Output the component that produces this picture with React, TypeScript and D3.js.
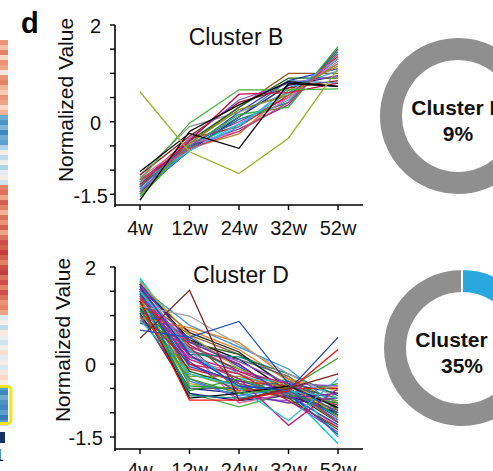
import React from "react";
import * as d3 from "d3";

const weeks = ["4w", "12w", "24w", "32w", "52w"];
const yTickValues = [2, 1.5, 1, 0.5, 0, -0.5, -1, -1.5];
const yLabelValues = [2, 0, -1.5];

// Cluster B profiles (4w,12w,24w,32w,52w)
const clusterB: number[][] = [
  [-1.25, -0.45, 0.3, 1.0, 1.0],
  [-1.4, -0.55, 0.2, 0.85, 1.1],
  [-1.45, -0.6, 0.1, 0.75, 0.95],
  [-1.35, -0.45, 0.0, 0.5, 1.3],
  [-1.3, -0.5, -0.05, 0.45, 1.4],
  [-1.1, -0.1, 0.2, 0.6, 1.2],
  [-1.25, -0.35, -0.1, 0.55, 1.35],
  [-1.5, -0.55, 0.05, 0.4, 1.45],
  [-1.2, -0.5, -0.15, 0.35, 1.5],
  [-1.55, -0.5, 0.15, 0.3, 1.55],
  [-1.15, -0.45, -0.2, 0.5, 1.25],
  [-1.3, -0.55, -0.25, 0.65, 1.15],
  [-1.4, -0.6, -0.1, 0.7, 1.05],
  [-1.35, -0.4, 0.3, 0.9, 0.9],
  [-1.1, -0.3, 0.4, 0.7, 0.85],
  [-1.45, -0.35, 0.45, 0.8, 0.95],
  [-1.25, -0.6, -0.05, 0.6, 1.3],
  [-1.5, -0.45, 0.25, 0.55, 1.2],
  [-1.35, -0.5, 0.1, 0.85, 0.8],
  [-1.2, -0.55, -0.2, 0.4, 1.4],
  [-1.3, -0.4, 0.57, 0.6, 0.8],
  [-1.2, -0.03, 0.66, 0.66, 0.68],
  [-1.03, -0.24, -0.55, 0.79, 0.73],
  [-1.62, -0.2, 0.35, 0.83, 0.73],
  [0.62, -0.62, -1.07, -0.34, 1.1],
];
const clusterBColors = [
  "#9a5a1e", "#2040d0", "#1a1a80", "#c020b0", "#20b8d0", "#909090", "#e02020", "#008080",
  "#7030a0", "#30b030", "#e070b0", "#c08030", "#40a0e0", "#206020", "#901818", "#9050d0",
  "#30c0e0", "#809020", "#4a70a0", "#d04070", "#c0104a", "#40b040", "#000000", "#000000",
  "#9ab32a",
];

// Cluster D profiles (4w,12w,24w,32w,52w)
const clusterD: number[][] = [
  [1.77, 0.4, -0.2, -0.6, -1.64],
  [1.65, 0.5, 0.1, -0.55, -1.2],
  [1.55, 0.0, -0.4, -0.65, -1.0],
  [1.45, -0.2, -0.5, -0.7, -0.9],
  [1.35, 0.6, 0.2, -0.3, -0.8],
  [1.25, 0.3, -0.1, -0.5, -1.1],
  [1.15, -0.5, -0.6, -0.4, -0.6],
  [1.0, 0.7, 0.3, -0.35, -0.5],
  [0.95, 0.1, -0.2, -0.6, -1.3],
  [0.85, 0.45, 0.2, -0.45, -0.7],
  [1.7, -0.3, -0.7, -0.75, -1.4],
  [1.6, 0.8, 0.35, -0.1, -0.9],
  [1.5, -0.6, -0.88, -0.6, -0.75],
  [1.4, 0.4, -0.15, -0.55, -1.15],
  [1.3, 0.25, 0.1, -0.25, -0.95],
  [1.2, -0.4, -0.55, -0.3, -0.55],
  [1.1, 0.55, -0.05, -0.65, -1.25],
  [1.0, -0.1, -0.35, -0.45, -0.85],
  [0.9, 0.35, 0.0, -0.7, -0.6],
  [1.75, 0.15, -0.3, -0.35, -1.5],
  [1.65, -0.45, -0.5, -0.6, -0.4],
  [1.55, 0.65, 0.25, -0.5, -1.05],
  [1.45, 0.05, -0.6, -0.8, -0.7],
  [1.35, -0.25, -0.25, -0.5, -1.2],
  [1.25, 0.5, -0.4, -0.6, -0.95],
  [1.15, 0.2, 0.15, -0.2, -0.65],
  [1.05, -0.6, -0.75, -0.65, -1.0],
  [0.95, 0.75, 0.45, -0.3, -1.1],
  [1.6, 0.3, -0.8, -0.6, -0.8],
  [1.5, -0.15, -0.45, -0.7, -1.35],
  [1.4, 0.45, 0.05, -0.4, -0.45],
  [1.3, -0.35, -0.65, -0.5, -1.15],
  [1.1, 0.0, -0.2, -0.75, -1.3],
  [1.0, -0.5, -0.5, -0.35, -0.9],
  [1.7, 0.6, -0.1, -0.45, -1.0],
  [1.45, -0.05, -0.35, -0.6, -1.45],
  [1.35, 0.35, -0.55, -0.5, -0.5],
  [1.25, -0.55, -0.3, -0.65, -0.8],
  [1.55, 0.15, -0.15, -0.4, -1.2],
  [0.9, -0.2, -0.45, -0.55, -0.7],
  [1.65, 0.45, 0.0, -0.7, -0.6],
  [1.3, -0.7, -0.6, -0.45, -0.9],
  [1.5, -0.65, -0.7, -0.55, -1.05],
  [1.2, 0.99, 0.4, -0.2, -0.7],
  [1.4, 0.1, -0.3, -1.26, -0.5],
  [1.5, 0.3, -0.5, -1.16, -0.3],
  [1.1, -0.3, -0.6, -0.5, 0.12],
  [1.6, 0.2, -0.45, -0.54, 0.55],
  [0.7, 0.55, 0.88, -0.4, -1.0],
  [1.3, -0.74, -0.74, -0.55, 0.3],
  [0.53, 1.52, -0.74, -0.5, -0.2],
];
const clusterDPalette = [
  "#00c8d8", "#000000", "#7030a0", "#8a9a20", "#8b5a2b", "#008080", "#1a1a80", "#e08020",
  "#e060a0", "#206020", "#9050d0", "#3090e0", "#40b040", "#c02040", "#506080", "#c0a020",
  "#1f4fbf", "#e02020", "#c0208f", "#20c0d0", "#30a030", "#202020", "#7030a0", "#8a9a20",
  "#8b5a2b", "#008080", "#1a1a80", "#e08020", "#e060a0", "#206020", "#9050d0", "#3090e0",
  "#c02040", "#506080", "#c0a020", "#1f4fbf", "#e02020", "#30a030", "#c0208f", "#20c0d0",
  "#7030a0", "#000000", "#008080", "#a0a0a0", "#c0208f", "#20c0d0", "#30a030", "#2040c0",
  "#1f4fbf", "#ff1010", "#7f1f1f",
];

// Donut shares
const donutB = [9, 91];
const donutD = [35, 65];
const donutColors = ["#29a8e0", "#8f8f8f"];

// Heatmap strip (row values, positive = red, negative = blue)
const heatRows = [
  0.45, 0.3, 0.5, 0.2, 0.45, 0.4, 0.1, 0.45, 0.5, 0.35, 0.25, 0.45, 0.4, 0.2, 0.35,
  -0.5, -0.6, -0.45, -0.65, -0.5, -0.55, -0.3,
  0.05, -0.25, 0.0, -0.3, -0.1, 0.05, -0.2,
  0.5, 0.55, 0.4, 0.6, 0.5, 0.35, 0.55, 0.45, 0.6, 0.4, 0.55,
  0.65, 0.6, 0.7, 0.6, 0.5, 0.65, 0.7, 0.55, 0.65, 0.5, 0.65, 0.55, 0.45, 0.5, 0.4,
  -0.15, 0.05, -0.25, 0.1, -0.05, -0.2, 0.0, 0.15, -0.1, 0.05, -0.15, 0.1, 0.2, 0.05,
  -0.55, -0.65, -0.5, -0.6, -0.65, -0.55, -0.7, -0.55,
];

const FONT = "Arial, 'Liberation Sans', Helvetica, sans-serif";

function LinePanel(props: {
  data: number[][];
  colors: string[];
  title: string;
  yTop: number;
  yBottom: number;
  axisY: number;
  titleX: number;
  titleY: number;
  labelEnd: number;
  yLabelX: number;
  yLabelY: number;
  xLabelY: number;
}) {
  const { data, colors, title, yTop, yBottom, axisY, titleX, titleY, labelEnd, yLabelX, yLabelY, xLabelY } = props;
  const x = d3.scalePoint<string>().domain(weeks).range([140, 338]);
  const y = d3.scaleLinear().domain([-1.5, 2]).range([yBottom, yTop]);
  const line = d3
    .line<number>()
    .x((_, i) => x(weeks[i]) as number)
    .y((d) => y(d));
  const axisX = 115;
  return (
    <g>
      {data.map((s, i) => (
        <path key={i} d={line(s) || ""} fill="none" stroke={colors[i % colors.length]} strokeWidth={1.3} />
      ))}
      <line x1={axisX} x2={axisX} y1={y(2)} y2={axisY + 2} stroke="#000" strokeWidth={1.6} />
      <line x1={axisX} x2={363} y1={axisY} y2={axisY} stroke="#000" strokeWidth={1.6} />
      {yTickValues.map((v) => (
        <line key={v} x1={axisX - 5} x2={axisX} y1={y(v)} y2={y(v)} stroke="#000" strokeWidth={1.4} />
      ))}
      {weeks.map((w) => (
        <line key={w} x1={x(w)} x2={x(w)} y1={axisY} y2={axisY + 5} stroke="#000" strokeWidth={1.4} />
      ))}
      {yLabelValues.map((v) => (
        <text
          key={v}
          x={labelEnd + (v === -1.5 ? 7 : 0)}
          y={y(v) + 3}
          textAnchor="end"
          dominantBaseline="middle"
          fontSize={20}
          fontFamily={FONT}
          fill="#111"
        >
          {String(v)}
        </text>
      ))}
      {weeks.map((w) => (
        <text key={w} x={x(w)} y={xLabelY} textAnchor="middle" fontSize={20} fontFamily={FONT} fill="#111">
          {w}
        </text>
      ))}
      <text
        transform={`translate(${yLabelX},${yLabelY}) rotate(-90)`}
        textAnchor="middle"
        fontSize={21}
        fontFamily={FONT}
        fill="#111"
      >
        Normalized Value
      </text>
      <text x={titleX} y={titleY} textAnchor="middle" fontSize={23} fontFamily={FONT} fill="#111">
        {title}
      </text>
    </g>
  );
}

function Donut(props: { values: number[]; cx: number; cy: number; label: string; pct: string; rotate: number }) {
  const { values, cx, cy, label, pct, rotate } = props;
  const pie = d3
    .pie<number>()
    .sort(null)
    .value((d) => d)
    .startAngle(rotate)
    .endAngle(rotate + Math.PI * 2);
  const arc = d3.arc<d3.PieArcDatum<number>>().innerRadius(55).outerRadius(79);
  const arcs = pie(values);
  return (
    <g transform={`translate(${cx},${cy})`}>
      {arcs.map((a, i) => (
        <path key={i} d={arc(a) || ""} fill={donutColors[i]} stroke="#fff" strokeWidth={2} />
      ))}
      <text x={0} y={-1} textAnchor="middle" fontSize={21} fontWeight="bold" fontFamily={FONT} fill="#111">
        {label}
      </text>
      <text x={0} y={25} textAnchor="middle" fontSize={21} fontWeight="bold" fontFamily={FONT} fill="#111">
        {pct}
      </text>
    </g>
  );
}

export default function App() {
  const heatY = d3.scaleLinear().domain([0, heatRows.length]).range([40, 425]);
  const heatColor = (v: number) => d3.interpolateRdBu(0.5 - v / 2);
  return (
    <svg
      width={493}
      height={471}
      style={{ position: "absolute", left: 0, top: 0, background: "#fff" }}
    >
      <rect x={0} y={0} width={493} height={471} fill="#fff" />
      {heatRows.map((v, i) => (
        <rect key={i} x={0} y={heatY(i)} width={8} height={heatY(i + 1) - heatY(i) + 0.3} fill={heatColor(v)} />
      ))}
      <rect x={-3} y={386.5} width={14} height={37} rx={3} fill="none" stroke="#f0e41c" strokeWidth={3} />
      <rect x={0} y={432} width={5} height={11} fill="#15315e" />
      <text x={4} y={461} textAnchor="end" fontSize={16} fontFamily={FONT} fill="#111">
        1
      </text>
      <text x={21} y={33} fontSize={29} fontWeight="bold" fontFamily={FONT} fill="#000">
        d
      </text>
      <LinePanel
        data={clusterB}
        colors={clusterBColors}
        title="Cluster B"
        yTop={25}
        yBottom={194.3}
        axisY={205}
        titleX={236}
        titleY={45}
        labelEnd={101}
        yLabelX={73}
        yLabelY={100}
        xLabelY={235}
      />
      <LinePanel
        data={clusterD}
        colors={clusterDPalette}
        title="Cluster D"
        yTop={267}
        yBottom={437}
        axisY={449}
        titleX={241}
        titleY={283}
        labelEnd={96}
        yLabelX={70}
        yLabelY={340}
        xLabelY={477}
      />
      <Donut values={donutB} cx={458} cy={116} label="Cluster B" pct="9%" rotate={0.95} />
      <Donut values={donutD} cx={462} cy={348} label="Cluster D" pct="35%" rotate={0} />
    </svg>
  );
}
